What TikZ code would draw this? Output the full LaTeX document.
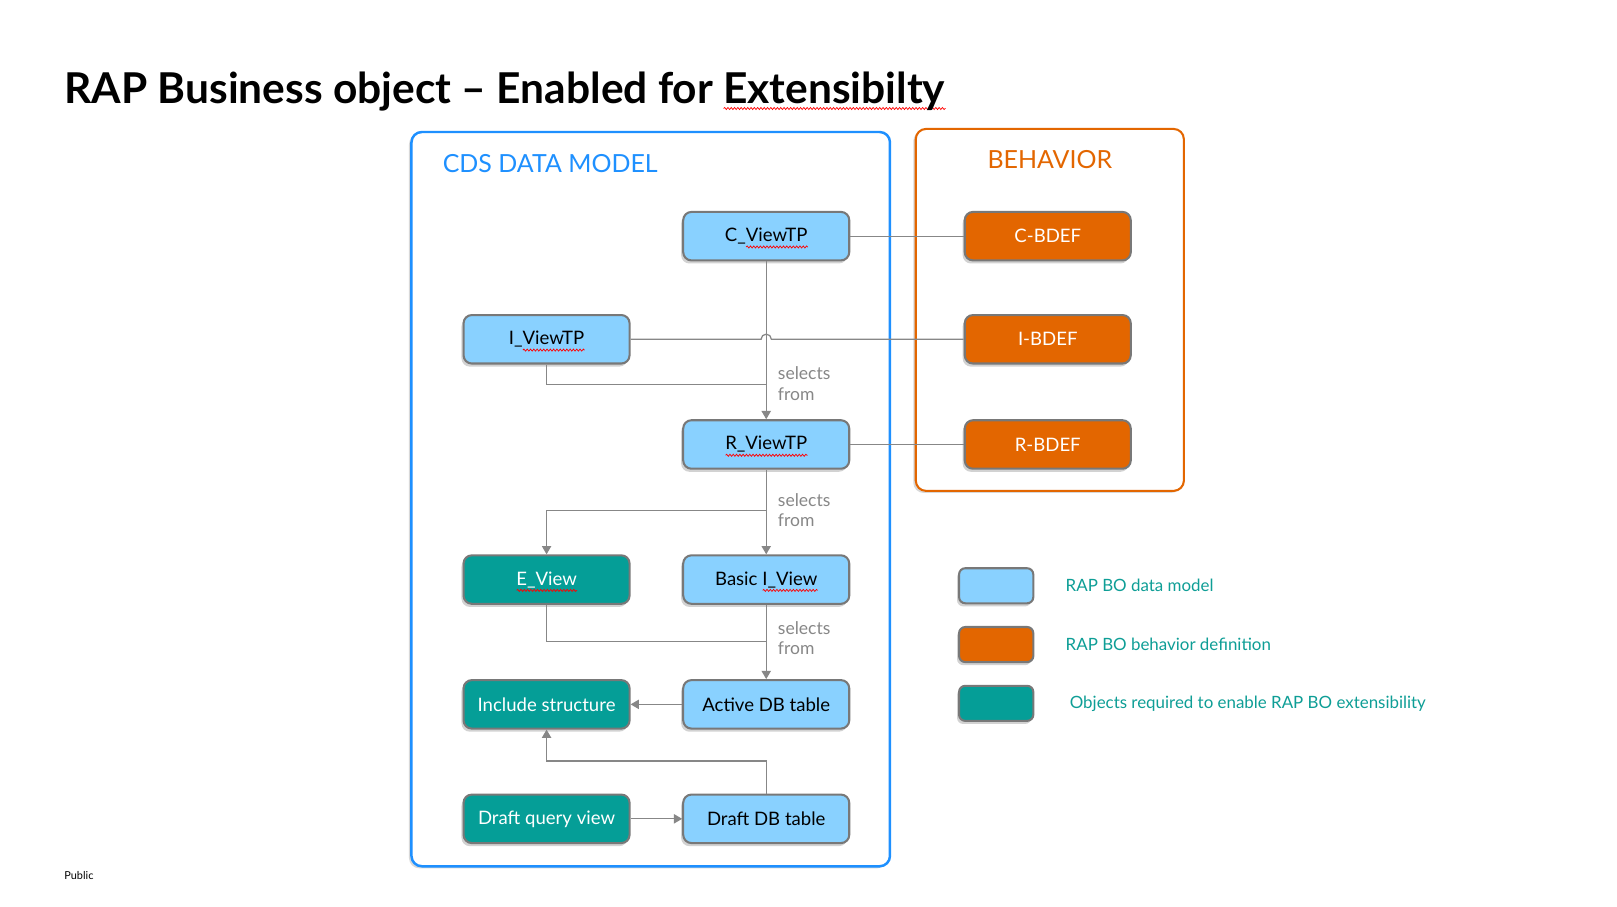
\documentclass[tikz,border=0pt]{standalone}
\usepackage{fontspec}
\setmainfont{Lato}
\usetikzlibrary{arrows.meta,positioning,shadows,decorations.pathmorphing}
\definecolor{viewblue}{RGB}{137,209,255}
\definecolor{extteal}{RGB}{5,158,151}
\definecolor{bdeforange}{RGB}{227,102,0}
\definecolor{cdsblue}{RGB}{30,144,255}
\definecolor{linegray}{RGB}{135,135,135}
\definecolor{rimgray}{RGB}{120,120,120}
\definecolor{legteal}{RGB}{14,158,150}
\makeatletter
\tikzset{nopre/.code={\def\tikz@preactions{}\def\tikz@postactions{}}}
\makeatother
\newcommand\spell[1]{\setbox0\hbox{#1}\rlap{\smash{\tikz[baseline=0pt,x=1pt,y=1pt,nopre,sharp corners]\draw[red,line width=0.35pt,decorate,decoration={snake,segment length=1.6pt,amplitude=0.5pt}] (0,-2.6) -- (\the\wd0,-2.6);}}\box0}
\tikzset{
	x=0.5pt, y=-0.5pt,
	box/.style = {draw=rimgray, line width=1pt, rounded corners=4pt, minimum width=80.5pt, minimum height=23.5pt, inner sep=2pt, font=\fontsize{9}{10}\selectfont, drop shadow={shadow xshift=-1pt, shadow yshift=-1.5pt, opacity=.35}},
	view/.style = {box, fill=viewblue},
	ext/.style = {box, fill=extteal, text=white},
	bdef/.style = {box, fill=bdeforange, text=white},
	legbox/.style = {box, minimum width=36pt, minimum height=17pt, rounded corners=3pt},
	legtext/.style = {text=legteal, font=\fontsize{8.2}{10}\selectfont, inner sep=0pt},
	frame/.style = {line width=1.2pt, rounded corners=5pt, fill=white, drop shadow={shadow xshift=-1.2pt, shadow yshift=-1pt, opacity=.3}},
	link/.style = {draw=linegray, line width=0.6pt},
	sel/.style = {-{Triangle[length=4pt,width=4.5pt]}},
	note/.style = {text=linegray, font=\fontsize{8.5}{10}\selectfont, align=left, anchor=north west, inner sep=0pt}
}
\begin{document}
\begin{tikzpicture}
	\useasboundingbox (0,0) rectangle (1568,879.5);
	\fill[white] (0,0) rectangle (1568,879.5);
	\node[anchor=base west, inner sep=0pt, font=\fontsize{20.6}{24}\selectfont\bfseries] (title) at (62,100) {RAP Business object – Enabled for \spell{Extensibilty}};
	\node[anchor=base west, inner sep=0pt, font=\fontsize{5.3}{6}\selectfont] (public) at (62,853) {Public};

	\draw[frame, draw=cdsblue] (399,128) rectangle (863,840);
	\draw[frame, draw=bdeforange, line width=1pt] (888,125) rectangle (1148,476);
	\node[anchor=base west, inner sep=0pt, text=cdsblue, font=\fontsize{12.1}{14}\selectfont] (cdstitle) at (429,167) {CDS DATA MODEL};
	\node[anchor=base, inner sep=0pt, text=bdeforange, font=\fontsize{12.1}{14}\selectfont] (bhvtitle) at (1018,163) {BEHAVIOR};

	\node[view] (cview) at (743,229) {C\_\spell{ViewTP}};
	\node[view] (iview) at (530,329) {I\_\spell{ViewTP}};
	\node[view] (rview) at (743,431) {\spell{R\_ViewTP}};
	\node[ext] (eview) at (530,562) {\spell{E\_View}};
	\node[view] (basic) at (743,562) {Basic \spell{I\_View}};
	\node[ext] (incl) at (530,683) {Include structure};
	\node[view] (active) at (743,683) {Active DB table};
	\node[ext] (dquery) at (530,794) {Draft query view};
	\node[view] (draft) at (743,794) {Draft DB table};
	\node[bdef] (cbdef) at (1016,229) {C-BDEF};
	\node[bdef] (ibdef) at (cbdef |- iview) {I-BDEF};
	\node[bdef] (rbdef) at (cbdef |- rview) {R-BDEF};

	\node[legbox, fill=viewblue] (legview) at (966,568) {};
	\node[legbox, fill=bdeforange] (legbdef) [below=10.5pt of legview] {};
	\node[legbox, fill=extteal] (legext) [below=10.5pt of legbdef] {};
	\node[legtext, right=15pt of legview] (legviewtxt) {RAP BO data model};
	\node[legtext, right=15pt of legbdef] (legbdeftxt) {RAP BO behavior definition};
	\node[legtext, right=17pt of legext] (legexttxt) {Objects required to enable RAP BO extensibility};

	\coordinate (hop) at (cview.south |- iview.east);
	\coordinate (jr) at (cview.south |- 0,373);
	\coordinate (je) at (rview.south |- 0,495);
	\coordinate (ja) at (basic.south |- 0,622);
	\coordinate (jd) at (draft.north |- 0,738);

	\draw[link] (cview) -- (cbdef);
	\draw[link] (iview.east) -- ([xshift=-2.5pt]hop) arc[start angle=180, end angle=0, radius=2.5pt] -- (ibdef.west);
	\draw[link] (rview) -- (rbdef);
	\draw[link, sel] (cview) -- (rview);
	\draw[link] (iview.south) |- (jr);
	\draw[link, sel] (rview) -- (basic);
	\draw[link, sel] (je) -| (eview.north);
	\draw[link, sel] (basic) -- (active);
	\draw[link] (eview.south) |- (ja);
	\draw[link, sel] (active) -- (incl);
	\draw[link, sel] (draft.north) -- (jd) -| (incl.south);
	\draw[link, sel] (dquery) -- (draft);

	\node[note] (sel1) at (754,355) {selects\\from};
	\node[note] (sel2) at (754,478) {selects\\from};
	\node[note] (sel3) at (754,602) {selects\\from};
\end{tikzpicture}
\end{document}
